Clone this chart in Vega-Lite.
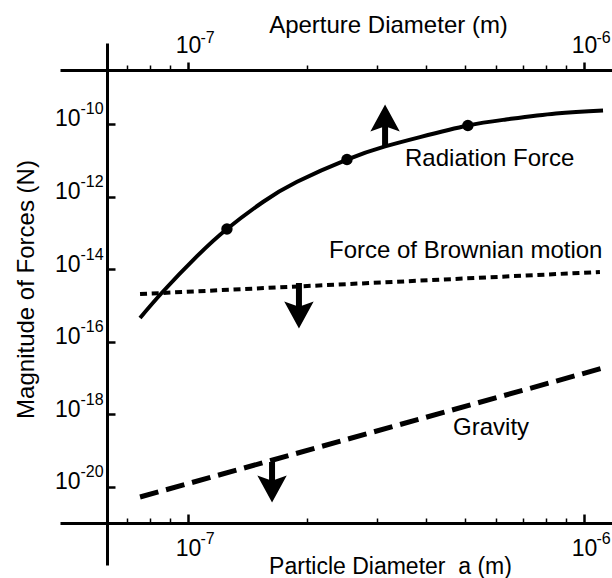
{
  "$schema": "https://vega.github.io/schema/vega-lite/v6.json",
  "autosize": {"type": "none"},
  "padding": {"left": 60, "top": 43, "right": 0, "bottom": 13},
  "width": 552,
  "height": 522,
  "background": "white",
  "config": {
    "view": {"stroke": null},
    "axis": {
      "grid": false,
      "domainColor": "black",
      "domainWidth": 3,
      "tickColor": "black",
      "labelColor": "black",
      "titleColor": "black",
      "labelFont": "Liberation Sans",
      "titleFont": "Liberation Sans",
      "titleFontWeight": "normal",
      "labelFontWeight": "normal",
      "labelOverlap": false,
      "labelBound": false,
      "labelFlush": false
    }
  },
  "datasets": {
    "radiation": [
      {"d": 7.565e-8, "f": 4.53e-16},
      {"d": 8.648e-8, "f": 2.43e-15},
      {"d": 1.054e-7, "f": 2.28e-14},
      {"d": 1.254e-7, "f": 1.28e-13},
      {"d": 1.546e-7, "f": 7.1e-13},
      {"d": 1.885e-7, "f": 2.56e-12},
      {"d": 2.52e-7, "f": 1.05e-11},
      {"d": 3.145e-7, "f": 2.41e-11},
      {"d": 3.853e-7, "f": 4.36e-11},
      {"d": 5.09e-7, "f": 9.09e-11},
      {"d": 6.35e-7, "f": 1.33e-10},
      {"d": 8.49e-7, "f": 1.945e-10},
      {"d": 1.117e-6, "f": 2.36e-10}
    ],
    "dots": [
      {"d": 1.254e-7, "f": 1.28e-13},
      {"d": 2.52e-7, "f": 1.05e-11},
      {"d": 5.09e-7, "f": 9.09e-11}
    ],
    "brownian": [
      {"d": 7.565e-8, "f": 2.07e-15},
      {"d": 1.097e-6, "f": 8.37e-15}
    ],
    "gravity": [
      {"d": 7.565e-8, "f": 5.3e-21},
      {"d": 1.117e-6, "f": 1.9e-17}
    ],
    "arrows": [
      {"d": 3.145e-7, "from": 2.41e-11, "head": 1.289e-10, "dir": "up"},
      {"d": 1.906e-7, "from": 4.17e-15, "head": 6.21e-16, "dir": "down"},
      {"d": 1.63e-7, "from": 4.89e-20, "head": 1.0e-20, "dir": "down"}
    ],
    "labels": [
      {"d": 3.532e-7, "f": 6.97e-12, "label": "Radiation Force"},
      {"d": 2.27e-7, "f": 2.04e-14, "label": "Force of Brownian motion"},
      {"d": 4.67e-7, "f": 2.71e-19, "label": "Gravity"}
    ]
  },
  "resolve": {"axis": {"x": "independent", "y": "independent"}},
  "layer": [
    {
      "data": {"name": "radiation"},
      "mark": {"type": "line", "color": "black", "strokeWidth": 4, "interpolate": "natural"},
      "encoding": {
        "x": {
          "field": "d", "type": "quantitative",
          "scale": {"type": "log", "domain": [4.75e-8, 1.1768e-6], "nice": false},
          "axis": {
            "orient": "bottom", "offset": -42, "values": [1e-7, 1e-6],
            "tickSize": -9, "tickWidth": 2.5,
            "labelExpr": "'10'", "labelFontSize": 23, "labelAlign": "center",
            "labelBaseline": "alphabetic", "labelPadding": 41,
            "title": "Particle Diameter\u00a0 a (m)", "titleFontSize": 23,
            "titleX": 330, "titleY": 50, "titleBaseline": "alphabetic"
          }
        },
        "y": {
          "field": "f", "type": "quantitative",
          "scale": {"type": "log", "domain": [7.1e-23, 1.703e-8], "nice": false},
          "axis": {
            "orient": "left", "offset": -47,
            "values": [1e-20, 1e-18, 1e-16, 1e-14, 1e-12, 1e-10],
            "tickSize": -8, "tickWidth": 2.5,
            "labelExpr": "'10'", "labelFontSize": 23, "labelAlign": "right",
            "labelBaseline": "alphabetic", "labelOffset": 2, "labelPadding": 35,
            "title": "Magnitude of Forces (N)", "titleFontSize": 24,
            "titleAngle": -90, "titleBaseline": "alphabetic", "titleAlign": "center",
            "titleX": -74, "titleY": 246
          }
        }
      }
    },
    {
      "data": {"name": "dots"},
      "mark": {"type": "point", "filled": true, "color": "black", "size": 130, "opacity": 1},
      "encoding": {
        "x": {
          "field": "d", "type": "quantitative",
          "scale": {"type": "log", "domain": [4.75e-8, 1.1768e-6], "nice": false},
          "axis": {
            "orient": "bottom", "offset": -42, "values": [1e-7, 1e-6],
            "ticks": false, "domain": false,
            "labelExpr": "datum.value < 5e-7 ? '-7' : '-6'", "labelFontSize": 16,
            "labelAlign": "left", "labelBaseline": "alphabetic",
            "labelOffset": 12, "labelPadding": 20, "title": null
          }
        },
        "y": {
          "field": "f", "type": "quantitative",
          "scale": {"type": "log", "domain": [7.1e-23, 1.703e-8], "nice": false},
          "axis": {
            "orient": "left", "offset": -47,
            "values": [1e-20, 1e-18, 1e-16, 1e-14, 1e-12, 1e-10],
            "ticks": false, "domain": false,
            "labelExpr": "'-' + format(-log(datum.value)/LN10, '.0f')",
            "labelFontSize": 16, "labelAlign": "left",
            "labelBaseline": "alphabetic", "labelOffset": -10, "labelPadding": 27,
            "title": null
          }
        }
      }
    },
    {
      "data": {"name": "brownian"},
      "mark": {"type": "line", "color": "black", "strokeWidth": 4, "strokeDash": [7, 4.7], "strokeCap": "butt"},
      "encoding": {
        "x": {
          "field": "d", "type": "quantitative",
          "scale": {"type": "log", "domain": [4.75e-8, 1.1768e-6], "nice": false},
          "axis": {
            "orient": "bottom", "offset": -42,
            "values": [7e-8, 8e-8, 9e-8, 2e-7, 3e-7, 4e-7, 5e-7, 6e-7, 7e-7, 8e-7, 9e-7],
            "tickSize": -5, "tickWidth": 1.5, "labels": false, "domain": false, "title": null
          }
        },
        "y": {"field": "f", "type": "quantitative", "scale": {"type": "log", "domain": [7.1e-23, 1.703e-8], "nice": false}, "axis": null}
      }
    },
    {
      "data": {"name": "gravity"},
      "mark": {"type": "line", "color": "black", "strokeWidth": 5, "strokeDash": [19, 8], "strokeCap": "butt"},
      "encoding": {
        "x": {
          "field": "d", "type": "quantitative",
          "scale": {"type": "log", "domain": [4.75e-8, 1.1768e-6], "nice": false},
          "axis": {
            "orient": "top", "offset": -27, "values": [1e-7, 1e-6],
            "tickSize": 8, "tickWidth": 2.5,
            "labelExpr": "'10'", "labelFontSize": 23, "labelAlign": "center",
            "labelBaseline": "alphabetic", "labelPadding": 10,
            "title": "Aperture Diameter (m)", "titleFontSize": 24,
            "titleX": 328, "titleY": -38, "titleBaseline": "alphabetic"
          }
        },
        "y": {"field": "f", "type": "quantitative", "scale": {"type": "log", "domain": [7.1e-23, 1.703e-8], "nice": false}, "axis": null}
      }
    },
    {
      "data": {"name": "arrows"},
      "mark": {"type": "rule", "color": "black", "strokeWidth": 6},
      "encoding": {
        "x": {
          "field": "d", "type": "quantitative",
          "scale": {"type": "log", "domain": [4.75e-8, 1.1768e-6], "nice": false},
          "axis": {
            "orient": "top", "offset": -27, "values": [1e-7, 1e-6],
            "ticks": false, "domain": false,
            "labelExpr": "datum.value < 5e-7 ? '-7' : '-6'", "labelFontSize": 16,
            "labelAlign": "left", "labelBaseline": "alphabetic",
            "labelOffset": 12, "labelPadding": 28, "title": null
          }
        },
        "y": {"field": "from", "type": "quantitative", "scale": {"type": "log", "domain": [7.1e-23, 1.703e-8], "nice": false}, "axis": null},
        "y2": {"field": "head"}
      }
    },
    {
      "data": {"name": "arrows"},
      "mark": {"type": "point", "filled": true, "color": "black", "size": 960, "opacity": 1, "strokeWidth": 0},
      "encoding": {
        "x": {
          "field": "d", "type": "quantitative",
          "scale": {"type": "log", "domain": [4.75e-8, 1.1768e-6], "nice": false},
          "axis": {
            "orient": "top", "offset": -27,
            "values": [7e-8, 8e-8, 9e-8, 2e-7, 3e-7, 4e-7, 5e-7, 6e-7, 7e-7, 8e-7, 9e-7],
            "tickSize": 5, "tickWidth": 1.5, "labels": false, "domain": false, "title": null
          }
        },
        "y": {"field": "head", "type": "quantitative", "scale": {"type": "log", "domain": [7.1e-23, 1.703e-8], "nice": false}, "axis": null},
        "shape": {
          "field": "dir", "type": "nominal",
          "scale": {"domain": ["up", "down"], "range": ["M0,-1L0.95,0.75L0,0.4L-0.95,0.75Z", "M0,1L0.95,-0.75L0,-0.4L-0.95,-0.75Z"]},
          "legend": null
        }
      }
    },
    {
      "data": {"name": "labels"},
      "mark": {"type": "text", "align": "left", "baseline": "alphabetic", "font": "Liberation Sans", "fontSize": 24, "color": "black"},
      "encoding": {
        "x": {"field": "d", "type": "quantitative", "scale": {"type": "log", "domain": [4.75e-8, 1.1768e-6], "nice": false}, "axis": null},
        "y": {"field": "f", "type": "quantitative", "scale": {"type": "log", "domain": [7.1e-23, 1.703e-8], "nice": false}, "axis": null},
        "text": {"field": "label", "type": "nominal"}
      }
    }
  ]
}
